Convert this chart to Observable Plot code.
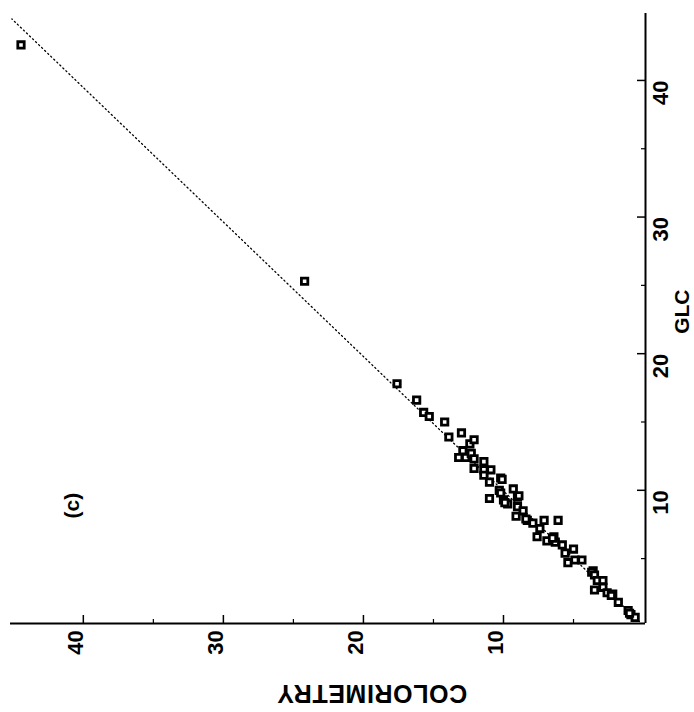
<!DOCTYPE html>
<html>
<head>
<meta charset="utf-8">
<script src="https://cdn.jsdelivr.net/npm/d3@7"></script>
<script src="https://cdn.jsdelivr.net/npm/@observablehq/plot@0.6"></script>
<style>
  html, body { margin: 0; padding: 0; background: #fff; }
  #chart { width: 694px; height: 712px; }
</style>
</head>
<body>
<div id="chart"></div>
<script>
// Colorimetry (horizontal, reversed) vs GLC (vertical, right axis)
const colorimetry = [44.45, 24.2, 17.6, 16.2, 15.7, 15.3, 14.2, 13.9, 13.0, 12.4, 12.1, 12.9, 13.2, 12.7, 12.3, 12.1, 11.4, 12.1, 11.4, 10.9, 11.4, 11.0, 10.2, 10.1, 11.0, 10.3, 10.2, 10.0, 9.7, 9.9, 9.3, 9.0, 8.9, 9.0, 8.6, 9.1, 8.3, 8.4, 7.9, 7.1, 6.1, 7.4, 7.6, 6.9, 6.4, 6.3, 6.5, 5.8, 5.6, 5.0, 5.4, 4.9, 4.4, 3.6, 3.7, 3.5, 3.3, 2.9, 3.5, 2.9, 2.6, 2.2, 2.3, 1.8, 1.1, 0.9, 0.6, 1.0];
const glc =         [42.6, 25.3, 17.8, 16.6, 15.7, 15.4, 15.0, 13.9, 14.2, 13.4, 13.7, 12.9, 12.4, 12.4, 12.7, 12.3, 12.1, 11.6, 11.5, 11.5, 11.1, 10.6, 10.9, 10.8, 9.4, 10.0, 9.8, 9.3, 9.0, 9.1, 10.1, 9.5, 9.6, 8.8, 8.5, 8.1, 7.8, 7.9, 7.6, 7.8, 7.8, 7.2, 6.6, 6.3, 6.6, 6.2, 6.5, 6.0, 5.4, 5.7, 4.7, 4.9, 4.9, 4.1, 4.0, 3.8, 3.4, 3.4, 2.7, 2.9, 2.5, 2.4, 2.3, 1.8, 1.2, 0.9, 0.7, 1.0];

// dotted fit line endpoints
const fitColorimetry = [0.3, 45.1];
const fitGlc = [0.4, 44.5];

const majorTicks = [10, 20, 30, 40];
const minorTicks = [5, 15, 25, 35];
const tickLabels = ["10", "20", "30", "40"];

const xDomain = [45.2, -0.14];
const yDomain = [0.25, 44.9];

const points = colorimetry.map((c, i) => ({c, g: glc[i]}));
const fit = fitColorimetry.map((c, i) => ({c, g: fitGlc[i]}));
const labelled = majorTicks.map((v, i) => ({v, t: tickLabels[i]}));

const W = 694, H = 712;
const mL = 10, mR = 49, mT = 13, mB = 89;
const fw = W - mL - mR, fh = H - mT - mB;
const font = "'Liberation Sans', Arial, sans-serif";

const chart = Plot.plot({
  width: W,
  height: H,
  marginLeft: mL,
  marginRight: mR,
  marginTop: mT,
  marginBottom: mB,
  style: {fontFamily: font, background: "#fff", color: "#000"},
  x: {domain: xDomain, axis: null},
  y: {domain: yDomain, axis: null},
  marks: [
    Plot.line(fit, {x: "c", y: "g", stroke: "#000", strokeWidth: 1.3, strokeDasharray: "1.2 3"}),
    Plot.ruleY([yDomain[0]], {stroke: "#000", strokeWidth: 2}),
    Plot.ruleX([xDomain[1]], {stroke: "#000", strokeWidth: 2}),
    Plot.tickX(majorTicks, {x: d => d, insetTop: fh - 8, stroke: "#000", strokeWidth: 1.5}),
    Plot.tickX(minorTicks, {x: d => d, insetTop: fh - 4, stroke: "#000", strokeWidth: 1.2}),
    Plot.tickY(majorTicks, {y: d => d, insetLeft: fw - 8, stroke: "#000", strokeWidth: 1.5}),
    Plot.tickY(minorTicks, {y: d => d, insetLeft: fw - 4, stroke: "#000", strokeWidth: 1.2}),
    Plot.text(labelled, {x: "v", text: "t", frameAnchor: "bottom", dy: 19, rotate: -90, fontSize: 22, fontWeight: "bold", fill: "#000"}),
    Plot.text(labelled, {y: "v", text: "t", frameAnchor: "right", dx: 15, rotate: -90, fontSize: 22, fontWeight: "bold", fill: "#000"}),
    Plot.dot(points, {x: "c", y: "g", symbol: "square", r: 3.6, stroke: "#000", strokeWidth: 2.8, fill: "#fff"}),
    Plot.text(["COLORIMETRY"], {frameAnchor: "bottom", dx: 44, dy: 61, rotate: 180, fontSize: 25, fontWeight: "bold", fill: "#000", style: "letter-spacing:0.6px"}),
    Plot.text(["GLC"], {frameAnchor: "right", dx: 37, dy: -29, rotate: -90, fontSize: 21, fontWeight: "bold", fill: "#000"}),
    Plot.text(["(c)"], {frameAnchor: "bottom-left", dx: 68, dy: -105, rotate: -90, fontSize: 21, fontWeight: "bold", fill: "#000"})
  ]
});
// letter spacing on the horizontal axis title
d3.select(chart).selectAll("text").filter(function() { return this.textContent === "COLORIMETRY"; }).attr("letter-spacing", "0.6px");
document.getElementById("chart").append(chart);
</script>
</body>
</html>
